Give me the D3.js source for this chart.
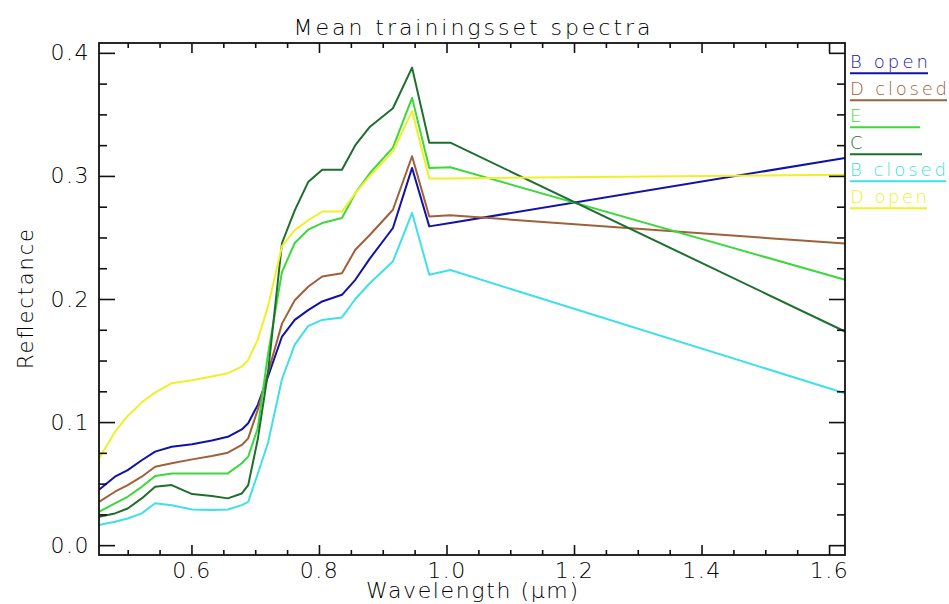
<!DOCTYPE html>
<html><head><meta charset="utf-8">
<script src="https://cdn.jsdelivr.net/npm/d3@7"></script>
<style>
html,body{margin:0;padding:0;background:#fff;}
svg{display:block;}
text{font-family:"DejaVu Sans ExtraLight","DejaVu Sans",sans-serif;font-weight:200;fill:#000;}
</style></head>
<body>
<svg id="chart" width="949" height="604"></svg>
<script>
// ---- data ----
const wavelengths = [0.455,0.480,0.500,0.522,0.543,0.569,0.601,0.632,0.657,0.679,0.689,0.704,0.720,0.742,0.762,0.783,0.805,0.836,0.857,0.880,0.916,0.946,0.973,1.006,1.625];
const seriesNames = ["B open","D closed","E","C","B closed","D open"];
const bOpen   = [0.045,0.0556,0.061,0.069,0.076,0.080,0.082,0.085,0.088,0.094,0.099,0.114,0.137,0.1695,0.183,0.191,0.198,0.2034,0.2156,0.233,0.2577,0.3065,0.259,0.2618,0.3146];
const dClosed = [0.0352,0.0434,0.0488,0.0556,0.0637,0.0665,0.0697,0.0724,0.0751,0.0814,0.0868,0.110,0.140,0.180,0.199,0.210,0.2183,0.221,0.240,0.2522,0.2725,0.316,0.267,0.268,0.245];
const eVals   = [0.0271,0.034,0.0393,0.0474,0.0561,0.0583,0.0583,0.0583,0.0583,0.0665,0.0719,0.095,0.155,0.222,0.2455,0.2563,0.2617,0.2658,0.286,0.3024,0.323,0.3635,0.3065,0.307,0.2156];
const cVals   = [0.023,0.0258,0.0298,0.038,0.0474,0.0488,0.0415,0.0399,0.038,0.042,0.0488,0.086,0.140,0.2455,0.272,0.295,0.305,0.305,0.325,0.340,0.355,0.388,0.327,0.327,0.1736];
const bClosed = [0.0163,0.019,0.0217,0.0258,0.034,0.0325,0.029,0.0285,0.029,0.0325,0.0352,0.058,0.083,0.135,0.163,0.178,0.183,0.185,0.200,0.213,0.2305,0.270,0.2197,0.2235,0.1234];
const dOpen   = [0.0705,0.092,0.105,0.116,0.124,0.1316,0.134,0.137,0.1397,0.145,0.1505,0.167,0.194,0.243,0.256,0.264,0.271,0.271,0.286,0.300,0.320,0.3526,0.298,0.298,0.301];
const seriesColors = ["#1212a8","#a0603a","#3cd83c","#1e6e2e","#40e0e8","#f0f028"];
const xMajorTicks = [0.6,0.8,1.0,1.2,1.4,1.6];
const yMajorTicks = [0.0,0.1,0.2,0.3,0.4];

const seriesValues = [bOpen,dClosed,eVals,cVals,bClosed,dOpen];

// ---- layout ----
const L=99, R=845, T=43, B=555;
const svg = d3.select("#chart");
const x = d3.scaleLinear().domain([0.455,1.625]).range([L,R]);
const y = d3.scaleLinear().domain([-0.008,0.408]).range([B,T]);

const xMinor = d3.range(0.5,1.6251,0.05).filter(v=>!xMajorTicks.some(m=>Math.abs(m-v)<1e-6));
const yMinor = d3.range(0,0.4001,0.025).filter(v=>!yMajorTicks.some(m=>Math.abs(m-v)<1e-6));

// lines
const line = d3.line().x((d,i)=>x(wavelengths[i])).y(d=>y(d));
const g = svg.append("g");
seriesValues.forEach((vals,i)=>{
  g.append("path").datum(vals).attr("d",line)
   .attr("fill","none").attr("stroke",seriesColors[i]).attr("stroke-width",2)
   .attr("stroke-linejoin","round");
});

// axes
function styleAxis(sel){
  sel.selectAll("path.domain").remove();
  sel.selectAll("line").attr("stroke","#111").attr("stroke-width",1.6);
  sel.selectAll("text").style("font-size","22px").style("letter-spacing","1.5px").attr("fill","#000");
}
const fmt = d3.format(".1f");
svg.append("g").attr("transform",`translate(0,${B})`)
  .call(d3.axisBottom(x).tickValues(xMajorTicks).tickFormat(fmt).tickSizeInner(-10).tickSizeOuter(0).tickPadding(7)).call(styleAxis);
svg.append("g").attr("transform",`translate(0,${B})`)
  .call(d3.axisBottom(x).tickValues(xMinor).tickFormat("").tickSizeInner(-5).tickSizeOuter(0)).call(styleAxis);
svg.append("g").attr("transform",`translate(0,${T})`)
  .call(d3.axisTop(x).tickValues(xMajorTicks).tickFormat("").tickSizeInner(-10).tickSizeOuter(0)).call(styleAxis);
svg.append("g").attr("transform",`translate(0,${T})`)
  .call(d3.axisTop(x).tickValues(xMinor).tickFormat("").tickSizeInner(-5).tickSizeOuter(0)).call(styleAxis);
svg.append("g").attr("transform",`translate(${L},0)`)
  .call(d3.axisLeft(y).tickValues(yMajorTicks).tickFormat(fmt).tickSizeInner(-16).tickSizeOuter(0).tickPadding(9)).call(styleAxis);
svg.append("g").attr("transform",`translate(${L},0)`)
  .call(d3.axisLeft(y).tickValues(yMinor).tickFormat("").tickSizeInner(-8).tickSizeOuter(0)).call(styleAxis);
svg.append("g").attr("transform",`translate(${R},0)`)
  .call(d3.axisRight(y).tickValues(yMajorTicks).tickFormat("").tickSizeInner(-16).tickSizeOuter(0)).call(styleAxis);
svg.append("g").attr("transform",`translate(${R},0)`)
  .call(d3.axisRight(y).tickValues(yMinor).tickFormat("").tickSizeInner(-8).tickSizeOuter(0)).call(styleAxis);

svg.append("rect").attr("x",L).attr("y",T).attr("width",R-L).attr("height",B-T)
  .attr("fill","none").attr("stroke","#111").attr("stroke-width",1.8);

// titles
svg.append("text").attr("x",(L+R)/2).attr("y",35).attr("text-anchor","middle")
  .style("font-size","22px").attr("textLength",357).attr("lengthAdjust","spacing")
  .text("Mean trainingsset spectra");
svg.append("text").attr("x",(L+R)/2).attr("y",598).attr("text-anchor","middle")
  .style("font-size","22px").attr("textLength",212).attr("lengthAdjust","spacing")
  .text("Wavelength (μm)");
svg.append("text").attr("transform",`translate(33,${(T+B)/2}) rotate(-90)`).attr("text-anchor","middle")
  .style("font-size","21px").attr("textLength",140).attr("lengthAdjust","spacing")
  .text("Reflectance");

// legend
const legendWidths = [78,97,70,72,96,77];
seriesNames.forEach((name,i)=>{
  const by = 68.3 + i*27;
  svg.append("text").attr("x",850).attr("y",by)
    .style("font-size","18px").style("fill",seriesColors[i])
    .attr("textLength", name.length>1 ? legendWidths[i] : null).attr("lengthAdjust","spacing")
    .text(name);
  svg.append("line").attr("x1",850).attr("x2",850+Math.max(legendWidths[i],70))
    .attr("y1",by+5).attr("y2",by+5).attr("stroke",seriesColors[i]).attr("stroke-width",2);
});
</script>
</body></html>
